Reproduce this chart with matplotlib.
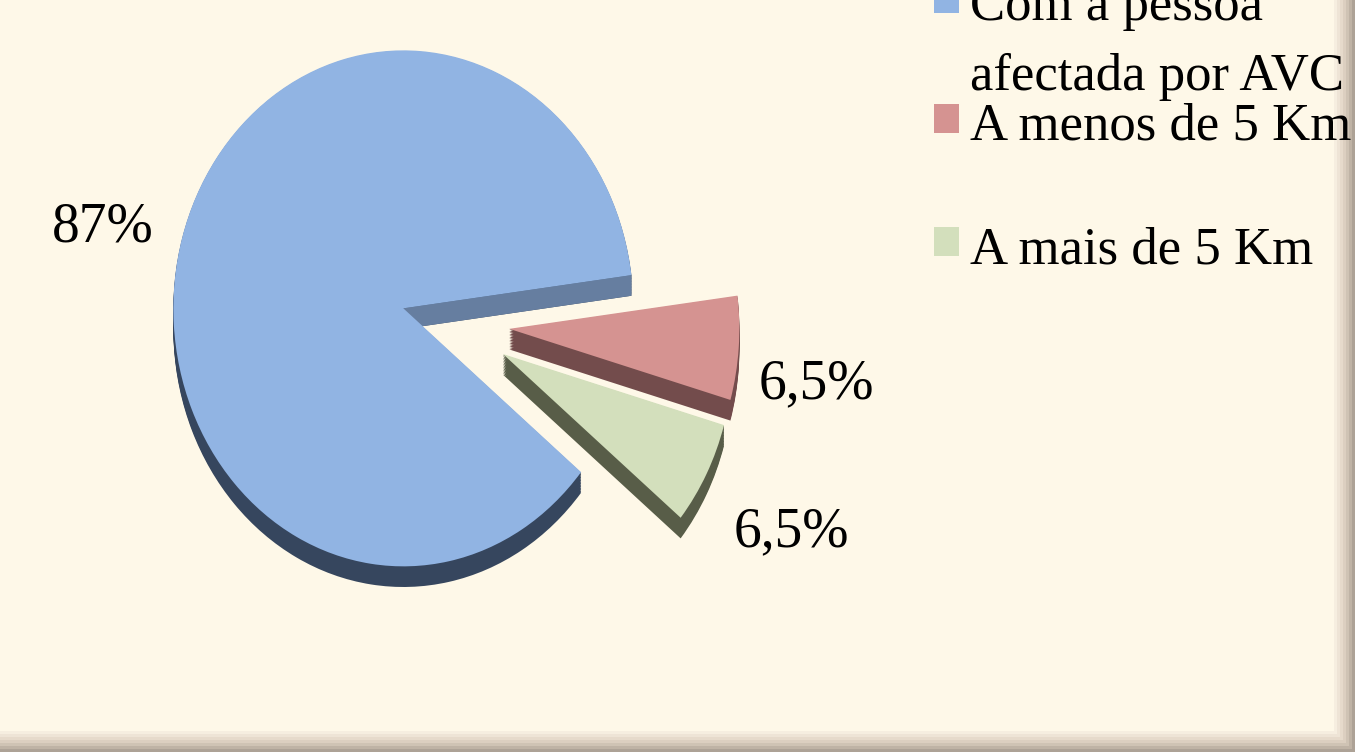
import matplotlib
matplotlib.use("Agg")
import matplotlib.pyplot as plt
import numpy as np
from matplotlib.patches import Rectangle, Polygon

# ---- data ----
categories = ["Com a pessoa\nafectada por AVC", "A menos de 5 Km", "A mais de 5 Km"]
values = [87.0, 6.5, 6.5]
labels = ["87%", "6,5%", "6,5%"]
explode = [0.22, 0.25, 0.25]

top_colors = ["#91B4E3", "#D59391", "#D3DFBC"]
side_colors = ["#36465E", "#734C4C", "#585D48"]
cut_face_color = "#667EA0"
bg = "#FEF8E8"

W, H = 1355, 752
fig = plt.figure(figsize=(W / 100, H / 100), dpi=100)
fig.patch.set_facecolor(bg)
ax = fig.add_axes([0, 0, 1, 1])
ax.set_facecolor(bg)

# pixel mapping: x_px = X0 + x*RX ; y_px = Y0 - y*RY
X0, Y0, RX, RY = 452, 324, 230, 258
depth = 0.08
start = -39.4

# extruded sides
for d in np.linspace(depth, 0.003, 14):
    ws, _ = ax.pie(values, explode=explode, colors=side_colors, startangle=start,
                   counterclock=False, center=(0, -d), radius=1,
                   wedgeprops=dict(linewidth=0))
    for wd in ws:
        wd.set_zorder(1.0)

# top faces
wedges, _ = ax.pie(values, explode=explode, colors=top_colors, startangle=start,
                   counterclock=False, center=(0, 0), radius=1,
                   wedgeprops=dict(linewidth=0))

# visible radial face of the big slice
w = wedges[0]
cx, cy = w.center
t = np.deg2rad(w.theta1)
ox, oy = cx + w.r * np.cos(t), cy + w.r * np.sin(t)
face = Polygon([(cx, cy), (ox, oy), (ox, oy - depth), (cx, cy - depth)],
               closed=True, facecolor=cut_face_color, edgecolor="none", zorder=1.2)
ax.add_patch(face)
for wd in wedges:
    wd.set_zorder(1.5)

ax.set_xlim(-X0 / RX, (W - X0) / RX)
ax.set_ylim(-(H - Y0) / RY, Y0 / RY)
ax.set_aspect("auto")
ax.axis("off")

def fx(px):
    return px / W

def fy(py):
    return 1 - py / H

serif = ["Liberation Serif", "DejaVu Serif"]

# data labels
label_pos = [(103, 241), (816, 398), (791, 546)]
for lab, (px, py) in zip(labels, label_pos):
    fig.text(fx(px), fy(py), lab, ha="center", va="baseline", fontsize=40,
             family=serif, color="black")

# legend
leg_baselines = [20, 140, 263]
for cat, col, base in zip(categories, top_colors, leg_baselines):
    fig.patches.append(Rectangle((fx(934), fy(base - 7)), 25 / W, 29 / H,
                                 transform=fig.transFigure, facecolor=col,
                                 edgecolor="none", figure=fig))
    for i, line in enumerate(cat.split("\n")):
        fig.text(fx(970), fy(base + 70 * i), line, ha="left", va="baseline",
                 fontsize=38, family=serif, color="black")

# frame shading at right and bottom
shades = ["#F6EEE0", "#EEE4D6", "#E6DACB", "#DCCFC0", "#CFC3B4", "#BFB3A5", "#ADA296"]
n = len(shades)
for i, c in enumerate(shades):
    off = (n - i) * 3
    fig.patches.append(Rectangle((fx(W - off), 0), off / W, 1,
                                 transform=fig.transFigure, facecolor=c,
                                 edgecolor="none", figure=fig))
    fig.patches.append(Rectangle((0, 0), 1 - off / W, off / H,
                                 transform=fig.transFigure, facecolor=c,
                                 edgecolor="none", figure=fig))

fig.savefig("out.png", dpi=100, facecolor=bg)
